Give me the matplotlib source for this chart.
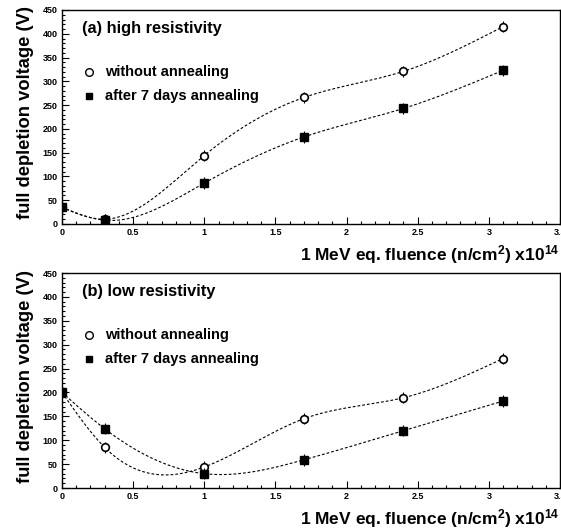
import numpy as np
import matplotlib; matplotlib.use('Agg')
import matplotlib.pyplot as plt
from matplotlib.ticker import MultipleLocator

plt.rcParams['font.family'] = 'Liberation Sans'
plt.rcParams['font.weight'] = 'bold'
plt.rcParams['mathtext.fontset'] = 'custom'
plt.rcParams['mathtext.rm'] = 'Liberation Sans:bold'
plt.rcParams['mathtext.bf'] = 'Liberation Sans:bold'
plt.rcParams['mathtext.default'] = 'bf'

# fluence (x1e14 n/cm2)
fluence = [0.0, 0.3, 1.0, 1.7, 2.4, 3.1]
# (a) high resistivity
hi_no_anneal = [35, 10, 144, 266, 321, 415]
hi_anneal = [35, 8, 86, 183, 243, 323]
# (b) low resistivity
lo_no_anneal = [200, 85, 44, 145, 189, 271]
lo_anneal = [200, 124, 30, 59, 120, 182]
err = 12
xtick_labels = ['0', '0.5', '1', '1.5', '2', '2.5', '3', '3.5']

def spline(x, y, n=300):
    # natural cubic spline, like ROOT's smooth "C" curve
    x = np.asarray(x, float); y = np.asarray(y, float); m = len(x)
    h = np.diff(x)
    A = np.zeros((m, m)); b = np.zeros(m)
    A[0, 0] = A[-1, -1] = 1
    for i in range(1, m - 1):
        A[i, i - 1] = h[i - 1]; A[i, i] = 2 * (h[i - 1] + h[i]); A[i, i + 1] = h[i]
        b[i] = 3 * ((y[i + 1] - y[i]) / h[i] - (y[i] - y[i - 1]) / h[i - 1])
    c = np.linalg.solve(A, b)
    xs = np.linspace(x[0], x[-1], n); ys = np.zeros(n)
    for k, xv in enumerate(xs):
        i = min(np.searchsorted(x, xv, side='right') - 1, m - 2)
        d = xv - x[i]
        bb = (y[i + 1] - y[i]) / h[i] - h[i] * (2 * c[i] + c[i + 1]) / 3
        dd = (c[i + 1] - c[i]) / (3 * h[i])
        ys[k] = y[i] + bb * d + c[i] * d ** 2 + dd * d ** 3
    return xs, ys

fig = plt.figure(figsize=(5.61, 5.29), dpi=100)
W = 0.8877; L = 0.1105
axA = fig.add_axes([L, 0.5766, W, 0.4045])
axB = fig.add_axes([L, 0.0775, W, 0.4064])

panels = [(axA, "(a) high resistivity", hi_no_anneal, hi_anneal),
          (axB, "(b) low resistivity", lo_no_anneal, lo_anneal)]

for ax, title, open_y, fill_y in panels:
    for yy in (open_y, fill_y):
        xs, ys = spline(fluence, yy)
        ax.plot(xs, ys, color='black', lw=0.8, ls=(0, (2.5, 1.8)))
    ax.errorbar(fluence, open_y, yerr=err, fmt='o', ms=5.5, mfc='white', mec='black',
                mew=1.2, ecolor='black', elinewidth=0.8, capsize=0, zorder=3)
    ax.errorbar(fluence, fill_y, yerr=err, fmt='s', ms=5.5, mfc='black', mec='black',
                ecolor='black', elinewidth=0.8, capsize=0, zorder=4)
    ax.set_xlim(0, 3.5); ax.set_ylim(0, 450)
    ax.xaxis.set_minor_locator(MultipleLocator(0.1))
    ax.yaxis.set_major_locator(MultipleLocator(50)); ax.yaxis.set_minor_locator(MultipleLocator(10))
    ax.set_xticks(np.arange(0, 3.51, 0.5), xtick_labels)
    ax.tick_params(which='both', direction='in', labelsize=6.5, width=0.8, pad=3, top=False, right=False)
    ax.tick_params(which='major', length=5)
    ax.tick_params(which='minor', length=2.5)
    for s in ax.spines.values():
        s.set_linewidth(1.0)
    ax.text(0.04, 0.915, title, transform=ax.transAxes, fontsize=11.8, fontweight='bold', va='center')
    ax.plot([0.055], [0.71], 'o', ms=5.5, mfc='white', mec='black', mew=1.0, transform=ax.transAxes, clip_on=False)
    ax.text(0.087, 0.71, "without annealing", transform=ax.transAxes, fontsize=10.5, fontweight='bold', va='center')
    ax.plot([0.055], [0.60], 's', ms=5, mfc='black', mec='black', transform=ax.transAxes, clip_on=False)
    ax.text(0.087, 0.60, "after 7 days annealing", transform=ax.transAxes, fontsize=10.5, fontweight='bold', va='center')
    ax.set_ylabel("full depletion voltage (V)", fontsize=13.2, fontweight='bold')
    ax.yaxis.set_label_coords(-0.056, 0.52)
    ax.text(0.998, -0.168, r"1 MeV eq. fluence (n/cm$^{2}$) x10$^{14}$", transform=ax.transAxes,
            fontsize=12.5, fontweight='bold', ha='right', va='baseline')

plt.savefig("out.png", dpi=100)
plt.close()
